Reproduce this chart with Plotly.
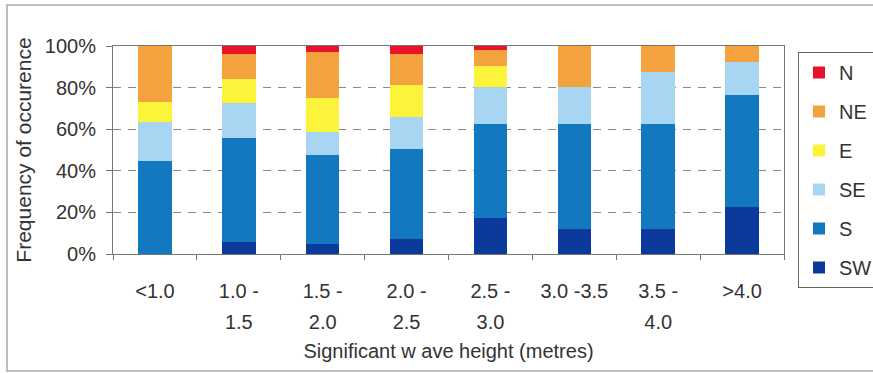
import plotly.graph_objects as go

# Wave height classes (metres)
categories = ["<1.0", "1.0 -1.5", "1.5 -2.0", "2.0 -2.5", "2.5 -3.0", "3.0 -3.5", "3.5 -4.0", ">4.0"]
tick_labels = ["<1.0", "1.0 -<br>1.5", "1.5 -<br>2.0", "2.0 -<br>2.5", "2.5 -<br>3.0",
               "3.0 -3.5", "3.5 -<br>4.0", ">4.0"]
y_ticks = [0, 20, 40, 60, 80, 100]
y_tick_labels = ["0%", "20%", "40%", "60%", "80%", "100%"]

# Frequency of occurrence (%) by wave direction, stacked bottom to top
sw = [0.0, 5.6, 4.8, 7.4, 17.1, 12.2, 12.2, 22.7]
s = [44.7, 50.0, 42.9, 43.2, 45.4, 50.3, 50.3, 53.7]
se = [18.6, 17.0, 10.8, 15.4, 17.8, 17.8, 24.8, 15.7]
e = [9.6, 11.5, 16.3, 15.4, 9.9, 0.0, 0.0, 0.0]
ne = [27.1, 12.1, 22.3, 14.8, 7.7, 19.7, 12.7, 7.9]
n = [0.0, 3.8, 2.9, 3.8, 2.1, 0.0, 0.0, 0.0]

series = [
    ("SW", sw, "#0b3a9c"),
    ("S", s, "#1279c0"),
    ("SE", se, "#a8d6f2"),
    ("E", e, "#fbf43a"),
    ("NE", ne, "#f4a23e"),
    ("N", n, "#e8132b"),
]

fig = go.Figure()
for i, (name, vals, col) in enumerate(series):
    fig.add_trace(go.Bar(
        x=categories, y=vals, name=name, legendgroup=name,
        legendrank=len(series) - i,  # N listed first, SW last
        marker=dict(color=col, line=dict(width=0)),
    ))

ticktext = ["<span style='font-size:20px'>" + t.replace("<br>", "</span><br><span style='font-size:20px'>") + "</span>"
            for t in tick_labels]

axis_col = "#777777"
fig.update_layout(
    width=873, height=373,
    margin=dict(l=113, r=89, t=46, b=119, autoexpand=False),
    barmode="stack", bargap=0.6,
    plot_bgcolor="white", paper_bgcolor="white",
    font=dict(family="Liberation Sans, Arial, sans-serif", size=20, color="#333333"),
    xaxis=dict(
        type="category", categoryorder="array", categoryarray=categories,
        tickmode="array", tickvals=categories, ticktext=ticktext,
        tickfont=dict(size=24),
        showline=True, linecolor=axis_col, linewidth=1, mirror=True,
        ticks="outside", tickson="boundaries", ticklen=5, tickcolor=axis_col,
        ticklabelstandoff=14,
        showgrid=False,
        title=dict(text="Significant w ave height (metres)", font=dict(size=20), standoff=11),
    ),
    yaxis=dict(
        range=[0, 100], tickmode="array", tickvals=y_ticks, ticktext=y_tick_labels,
        showgrid=True, gridcolor="#888888", griddash="8px,7px", gridwidth=1,
        zeroline=False,
        showline=True, linecolor=axis_col, linewidth=1, mirror=True,
        ticks="outside", ticklen=6, tickcolor=axis_col,
        ticklabelstandoff=6,
        title=dict(text="Frequency of occurence", font=dict(size=21), standoff=7),
    ),
    legend=dict(
        x=(798 - 113) / 671, y=(254 - 52) / 208, xanchor="left", yanchor="top",
        bordercolor="#666666", borderwidth=1, bgcolor="white",
        tracegroupgap=10, traceorder="grouped", maxheight=400,
        entrywidth=80, entrywidthmode="pixels",
        font=dict(size=20, color="#333333"),
    ),
    shapes=[dict(
        type="rect", xref="paper", yref="paper",
        x0=-0.158, x1=1.2, y0=-0.5625, y1=1.197,
        line=dict(color="#aaaaaa", width=1.5), fillcolor="rgba(0,0,0,0)",
    )],
)

fig.write_html("out.html")
